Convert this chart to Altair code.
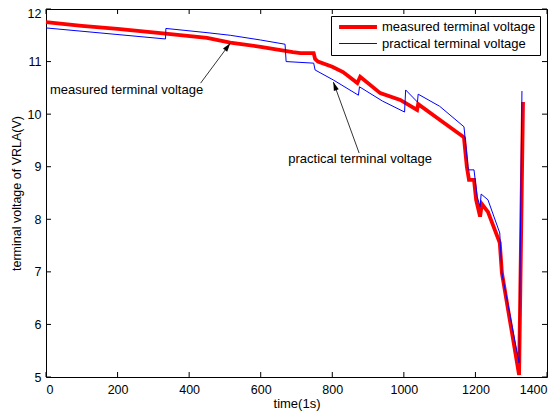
import altair as alt
import pandas as pd

series_names = ["measured terminal voltage", "practical terminal voltage"]

meas_t = [0, 100, 200, 334, 450, 515, 600, 690, 711, 748, 752, 760, 800, 830, 870, 878,
          934, 990, 1037, 1040, 1101, 1166, 1168, 1176, 1182, 1196, 1202, 1213, 1218, 1235,
          1268, 1274, 1322, 1333]
meas_v = [11.75, 11.68, 11.62, 11.53, 11.45, 11.36, 11.28, 11.18, 11.16, 11.16, 11.05, 11.0,
          10.9, 10.8, 10.59, 10.71, 10.40, 10.27, 10.08, 10.19, 9.89, 9.57, 9.55, 9.0, 8.75,
          8.75, 8.37, 8.05, 8.29, 8.14, 7.55, 6.98, 5.04, 10.23]

prac_t = [0, 334, 335, 450, 515, 600, 668, 671, 748, 752, 803, 873, 876, 940, 1002, 1005,
          1038, 1040, 1100, 1168, 1180, 1196, 1205, 1213, 1216, 1235, 1268, 1274, 1322, 1330]
prac_v = [11.64, 11.43, 11.63, 11.55, 11.5, 11.41, 11.33, 11.0, 10.97, 10.84, 10.65, 10.36,
          10.52, 10.25, 10.04, 10.46, 10.23, 10.38, 10.15, 9.76, 8.94, 8.94, 8.43, 8.24, 8.48,
          8.37, 7.74, 6.98, 5.27, 10.44]

x_ticks = [0, 200, 400, 600, 800, 1000, 1200, 1400]
y_ticks = [5, 6, 7, 8, 9, 10, 11, 12]

ann_text = ["measured terminal voltage", "practical terminal voltage"]
ann_x = [11, 677]
ann_y = [10.46, 9.15]

arrow_tail_x = [432, 875]
arrow_tail_y = [10.59, 9.26]
arrow_head_x = [515, 803]
arrow_head_y = [11.35, 10.61]
arrow_angle = [37, 340]

W, H = 501, 368
FONT = "Liberation Sans"

rows = []
for i, (t, v) in enumerate(zip(meas_t, meas_v)):
    rows.append({"series": series_names[0], "t": t, "v": v, "i": i})
for i, (t, v) in enumerate(zip(prac_t, prac_v)):
    rows.append({"series": series_names[1], "t": t, "v": v, "i": i})
df = pd.DataFrame(rows)

ann_df = pd.DataFrame({"t": ann_x, "v": ann_y, "label": ann_text})
arr_rows = []
for k in range(len(arrow_tail_x)):
    arr_rows.append({"a": k, "t": arrow_tail_x[k], "v": arrow_tail_y[k], "i": 0})
    arr_rows.append({"a": k, "t": arrow_head_x[k], "v": arrow_head_y[k], "i": 1})
arr_df = pd.DataFrame(arr_rows)
head_df = pd.DataFrame({"t": arrow_head_x, "v": arrow_head_y, "ang": arrow_angle})
xt_df = pd.DataFrame({"t": x_ticks})
yt_df = pd.DataFrame({"v": y_ticks})

xs = alt.Scale(domain=[0, 1400], nice=False, zero=False)
ys = alt.Scale(domain=[5, 12], nice=False, zero=False)
xaxis = alt.Axis(values=x_ticks, title="time(1s)", domain=False, ticks=False, grid=False,
                 labelPadding=6, titlePadding=2, format="d", titleFontWeight="normal")
yaxis = alt.Axis(values=y_ticks, title="terminal voltage of VRLA(V)", domain=False, ticks=False,
                 grid=False, labelPadding=5, titlePadding=4, format="d", titleFontWeight="normal",
                 titleFontSize=12.5,
                 labelOffset={"condition": {"test": "datum.value == 12", "value": 4}, "value": 0})


def X(f="t:Q"):
    return alt.X(f, scale=xs, axis=xaxis)


def Y(f="v:Q"):
    return alt.Y(f, scale=ys, axis=yaxis)


leg = alt.Legend(title=None, orient="none", legendX=285, legendY=7,
                 symbolType="M-4,0H4", symbolSize=90, symbolOffset=16, labelOffset=17,
                 labelFontSize=13, labelFont=FONT, padding=4, rowPadding=2,
                 strokeColor="black", fillColor="white", labelLimit=400)

lines = alt.Chart(df).mark_line().encode(
    x=X(), y=Y(),
    color=alt.Color("series:N", scale=alt.Scale(domain=series_names, range=["#ff0000", "#0000ff"]),
                    legend=leg),
    strokeWidth=alt.StrokeWidth("series:N", scale=alt.Scale(domain=series_names, range=[3.8, 1]),
                                legend=leg),
    order="i:Q",
)

ann = alt.Chart(ann_df).mark_text(align="left", baseline="middle", fontSize=13, font=FONT,
                                  color="black").encode(x=X(), y=Y(), text="label:N")

arrows = alt.Chart(arr_df).mark_line(color="black", strokeWidth=0.8).encode(
    x=X(), y=Y(), detail="a:N", order="i:Q")

heads = alt.Chart(head_df).mark_point(shape="M0,0L-0.3,1L0.3,1Z", filled=True, color="black",
                                      size=300, opacity=1).encode(
    x=X(), y=Y(), angle=alt.Angle("ang:Q", scale=None))

tick_b = alt.Chart(xt_df).mark_rule(color="black", strokeWidth=1).encode(
    x=X(), y=alt.value(H), y2=alt.value(H - 5))
tick_t = alt.Chart(xt_df).mark_rule(color="black", strokeWidth=1).encode(
    x=X(), y=alt.value(0), y2=alt.value(5))
tick_l = alt.Chart(yt_df).mark_rule(color="black", strokeWidth=1).encode(
    y=Y(), x=alt.value(0), x2=alt.value(5))
tick_r = alt.Chart(yt_df).mark_rule(color="black", strokeWidth=1).encode(
    y=Y(), x=alt.value(W), x2=alt.value(W - 5))

chart = alt.layer(lines, ann, arrows, heads, tick_b, tick_t, tick_l, tick_r).properties(
    width=W, height=H, autosize="none", background="white",
    padding={"left": 38, "top": 1, "right": 5, "bottom": 36},
).configure_view(stroke="black", strokeWidth=1).configure_axis(
    labelFont=FONT, labelFontSize=12.5, labelColor="black",
    titleFont=FONT, titleFontSize=13, titleFontWeight="normal", titleColor="black",
)

chart.save("out.html", embed_options={"renderer": "svg", "actions": False})
